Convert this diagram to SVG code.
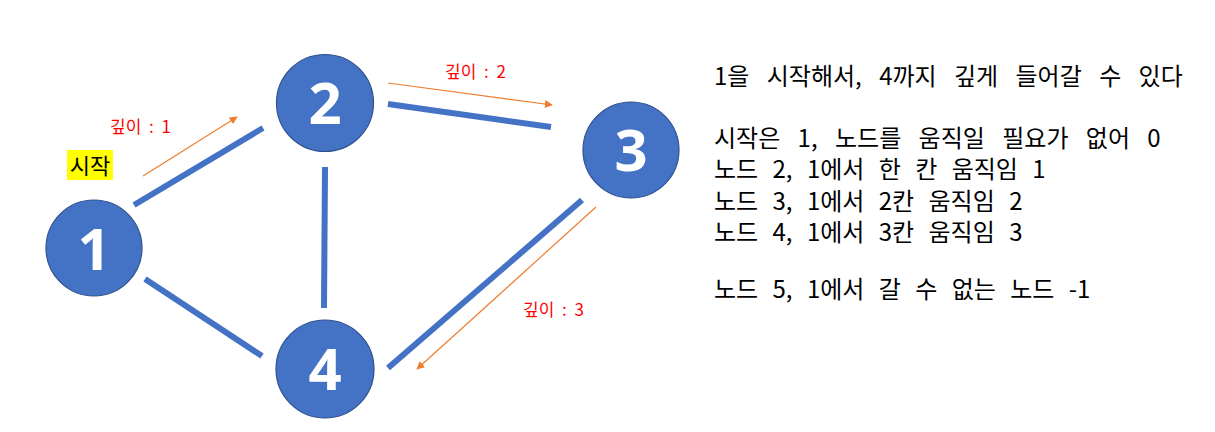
<svg xmlns="http://www.w3.org/2000/svg" width="1215" height="432" viewBox="0 0 1215 432">
<defs>
<marker id="ah" viewBox="0 0 10 10" refX="9" refY="5" markerWidth="8" markerHeight="8" markerUnits="userSpaceOnUse" orient="auto">
<path d="M0,0 L10,5 L0,10 z" fill="#ED7D31"/>
</marker>
<style>
.node circle{fill:#4472C4;stroke:#2F528F;stroke-width:1.2}
.node text{fill:#fff;font-family:"Open Sans","Noto Sans",sans-serif;font-weight:700;font-size:58px;text-anchor:middle}
.edge{stroke:#4472C4;stroke-width:6;fill:none}
.arr{stroke:#ED7D31;stroke-width:1.2;fill:none;marker-end:url(#ah)}
.lbl{fill:#FF0000;font-family:"Noto Sans CJK KR","Noto Sans",sans-serif;font-size:17px;word-spacing:4px}
.info{fill:#000;font-family:"Noto Sans CJK KR",sans-serif;font-size:24px;word-spacing:9px}
.wide{word-spacing:12px}
</style>
</defs>
<rect width="1215" height="432" fill="#fff"/>
<g id="connectors">
<line class="edge" x1="134" y1="205" x2="263" y2="128"/>
<line class="edge" x1="388" y1="104" x2="551" y2="127"/>
<line class="edge" x1="325" y1="167" x2="324" y2="308"/>
<line class="edge" x1="145" y1="279" x2="262" y2="356"/>
<line class="edge" x1="582" y1="200" x2="388" y2="368"/>
<line class="arr" x1="143" y1="176" x2="237" y2="117"/>
<line class="arr" x1="388" y1="83" x2="552" y2="105"/>
<line class="arr" x1="596" y1="207" x2="417" y2="369"/>
</g>
<g id="node1" class="node"><circle cx="94" cy="248" r="48"/><text x="94" y="270">1</text></g>
<g id="node2" class="node"><circle cx="325" cy="103" r="48.5"/><text x="325" y="124">2</text></g>
<g id="node3" class="node"><circle cx="631" cy="150" r="48"/><text x="631" y="171">3</text></g>
<g id="node4" class="node"><circle cx="325" cy="369" r="49"/><text x="325" y="390">4</text></g>
<g id="labels">
<text class="lbl" x="110" y="133">깊이 : 1</text>
<text class="lbl" x="445" y="78">깊이 : 2</text>
<text class="lbl" x="523" y="316">깊이 : 3</text>
<rect x="67" y="150" width="46" height="30" fill="#FFFF00"/>
<text x="90" y="174" text-anchor="middle" style="font-family:'Noto Sans CJK KR',sans-serif;font-size:22px;fill:#000">시작</text>
</g>
<g id="info">
<text class="info wide" x="714" y="85">1을 시작해서, 4까지 깊게 들어갈 수 있다</text>
<text class="info"><tspan class="wide" x="714" y="147">시작은 1, 노드를 움직일 필요가 없어 0</tspan><tspan x="714" y="178">노드 2, 1에서 한 칸 움직임 1</tspan><tspan x="714" y="210">노드 3, 1에서 2칸 움직임 2</tspan><tspan x="714" y="241">노드 4, 1에서 3칸 움직임 3</tspan></text>
<text class="info" x="714" y="298">노드 5, 1에서 갈 수 없는 노드 -1</text>
</g>
</svg>
